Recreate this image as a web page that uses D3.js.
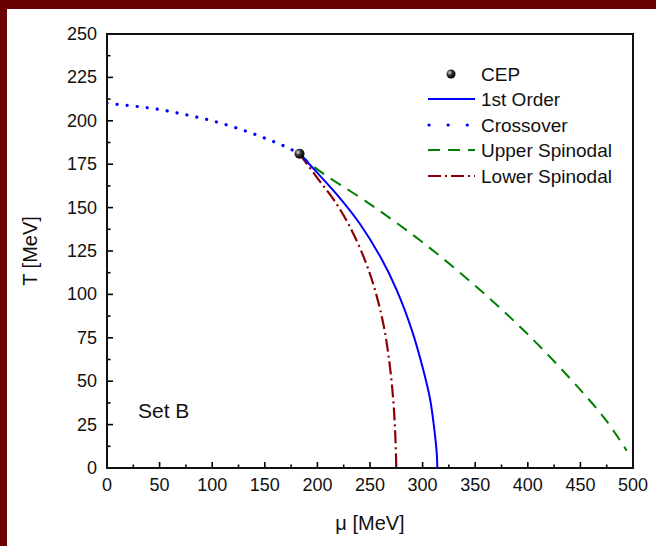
<!DOCTYPE html>
<html><head><meta charset="utf-8">
<script src="https://cdn.jsdelivr.net/npm/d3@7"></script>
<style>body{margin:0;background:#fff}svg{display:block}text{font-family:"Liberation Sans",Arial,sans-serif}</style>
</head><body>
<svg id="c" width="656" height="546"></svg>
<script>
// Data (μ in MeV, T in MeV)
const crossoverMu = [0, 25, 50, 75, 100, 125, 150, 170, 183];
const crossoverT  = [210, 208.5, 206.5, 203.5, 200, 195.5, 190, 185, 181];
const firstOrderMu = [183, 200, 220, 240, 260, 275, 290, 300, 307, 311, 313.5, 314];
const firstOrderT  = [181, 170, 156.5, 141, 121.5, 103, 79, 58, 40, 23, 8, 0];
const upperMu = [183, 200, 250, 300, 350, 400, 450, 475, 494];
const upperT  = [181, 172, 152, 130, 105, 77, 45, 27, 10];
const lowerMu = [183, 200, 215, 230, 245, 255, 263, 268, 272, 274, 275];
const lowerT  = [181, 167, 155, 140, 120, 102, 82, 63, 40, 20, 0];
const cepMu = [183], cepT = [181];
const xTicks = [0,50,100,150,200,250,300,350,400,450,500];
const yTicks = [0,25,50,75,100,125,150,175,200,225,250];
const legendLabels = ["CEP","1st Order","Crossover","Upper Spinodal","Lower Spinodal"];

const svg = d3.select("#c");
// maroon frame strips
svg.append("rect").attr("x",0).attr("y",0).attr("width",656).attr("height",9).attr("fill","#6b0000");
svg.append("rect").attr("x",0).attr("y",0).attr("width",7).attr("height",546).attr("fill","#6b0000");

const L=107,R=633,T=34,B=468;
const x = d3.scaleLinear().domain([0,500]).range([L,R]);
const y = d3.scaleLinear().domain([0,250]).range([B,T]);

const defs = svg.append("defs");
const g = defs.append("radialGradient").attr("id","ball").attr("cx","35%").attr("cy","35%").attr("r","65%");
g.append("stop").attr("offset","0%").attr("stop-color","#ddd");
g.append("stop").attr("offset","45%").attr("stop-color","#333");
g.append("stop").attr("offset","100%").attr("stop-color","#000");
defs.append("clipPath").attr("id","clip").append("rect").attr("x",L).attr("y",T).attr("width",R-L).attr("height",B-T);

// axes
const xMinor = d3.range(0,501,25), yMinor = d3.range(0,251,12.5);
const ax = svg.append("g");
ax.selectAll("line.xm").data(xMinor).enter().append("line")
  .attr("x1",d=>x(d)).attr("x2",d=>x(d)).attr("y1",B).attr("y2",d=>B-(d%50===0?6:3.5))
  .attr("stroke","#000").attr("stroke-width",1.6);
ax.selectAll("line.ym").data(yMinor).enter().append("line")
  .attr("y1",d=>y(d)).attr("y2",d=>y(d)).attr("x1",L).attr("x2",d=>L+(d%25===0?6:3.5))
  .attr("stroke","#000").attr("stroke-width",1.6);
svg.append("rect").attr("x",L).attr("y",T).attr("width",R-L).attr("height",B-T)
  .attr("fill","none").attr("stroke","#111").attr("stroke-width",2);

ax.selectAll("text.xt").data(xTicks).enter().append("text")
  .attr("x",d=>x(d)).attr("y",B+23).attr("text-anchor","middle")
  .attr("font-size",18).attr("fill","#111").text(d=>d);
ax.selectAll("text.yt").data(yTicks).enter().append("text")
  .attr("x",L-10).attr("y",d=>y(d)+6).attr("text-anchor","end")
  .attr("font-size",18).attr("fill","#111").text(d=>d);

svg.append("text").attr("x",(L+R)/2).attr("y",530).attr("text-anchor","middle")
  .attr("font-size",20).attr("fill","#111").text("μ [MeV]");
svg.append("text").attr("transform",`translate(37,${(T+B)/2}) rotate(-90)`).attr("text-anchor","middle")
  .attr("font-size",20).attr("fill","#111").text("T [MeV]");
svg.append("text").attr("x",138).attr("y",418).attr("font-size",21).attr("fill","#111").text("Set B");

const line = d3.line().x(d=>x(d[0])).y(d=>y(d[1])).curve(d3.curveCatmullRom.alpha(0.5));
const lineX = d3.line().x(d=>x(d[0])).y(d=>y(d[1])).curve(d3.curveMonotoneX);
const zip=(a,b)=>a.map((v,i)=>[v,b[i]]);
const styles = {
  first:{c:"#0000ff",da:null},
  cross:{c:"#0000ff",da:"0.1,10"},
  upper:{c:"#008000",da:"12,8"},
  lower:{c:"#8b0000",da:"13,4,2,4"}
};
const pg = svg.append("g").attr("clip-path","url(#clip)");
pg.append("path").attr("d",lineX(zip(crossoverMu,crossoverT))).attr("fill","none")
  .attr("stroke",styles.cross.c).attr("stroke-width",3.2).attr("stroke-linecap","round").attr("stroke-dasharray",styles.cross.da);
pg.append("path").attr("d",line(zip(upperMu,upperT))).attr("fill","none")
  .attr("stroke",styles.upper.c).attr("stroke-width",2).attr("stroke-dasharray",styles.upper.da);
pg.append("path").attr("d",line(zip(lowerMu,lowerT))).attr("fill","none")
  .attr("stroke",styles.lower.c).attr("stroke-width",2.2).attr("stroke-dasharray",styles.lower.da);
pg.append("path").attr("d",line(zip(firstOrderMu,firstOrderT))).attr("fill","none")
  .attr("stroke",styles.first.c).attr("stroke-width",2);
pg.selectAll("circle.cep").data(zip(cepMu,cepT)).enter().append("circle")
  .attr("cx",d=>x(d[0])).attr("cy",d=>y(d[1])).attr("r",5).attr("fill","url(#ball)");

// legend
const lg = svg.append("g");
const rows = [74,99,125,150,176];
const keys = [null,"first","cross","upper","lower"];
legendLabels.forEach((lab,i)=>{
  const yy = rows[i];
  if(i===0){
    lg.append("circle").attr("cx",451).attr("cy",yy).attr("r",4.5).attr("fill","url(#ball)");
  } else {
    const s = styles[keys[i]];
    lg.append("line").attr("x1",keys[i]==="cross"?429:428).attr("x2",475).attr("y1",yy).attr("y2",yy)
      .attr("stroke",s.c).attr("stroke-width",keys[i]==="cross"?3.2:2)
      .attr("stroke-linecap",keys[i]==="cross"?"round":"butt")
      .attr("stroke-dasharray",keys[i]==="cross"?"0.1,19":s.da);
  }
  lg.append("text").attr("x",481).attr("y",yy+7).attr("font-size",19).attr("fill","#111").text(lab);
});
</script>
</body></html>
